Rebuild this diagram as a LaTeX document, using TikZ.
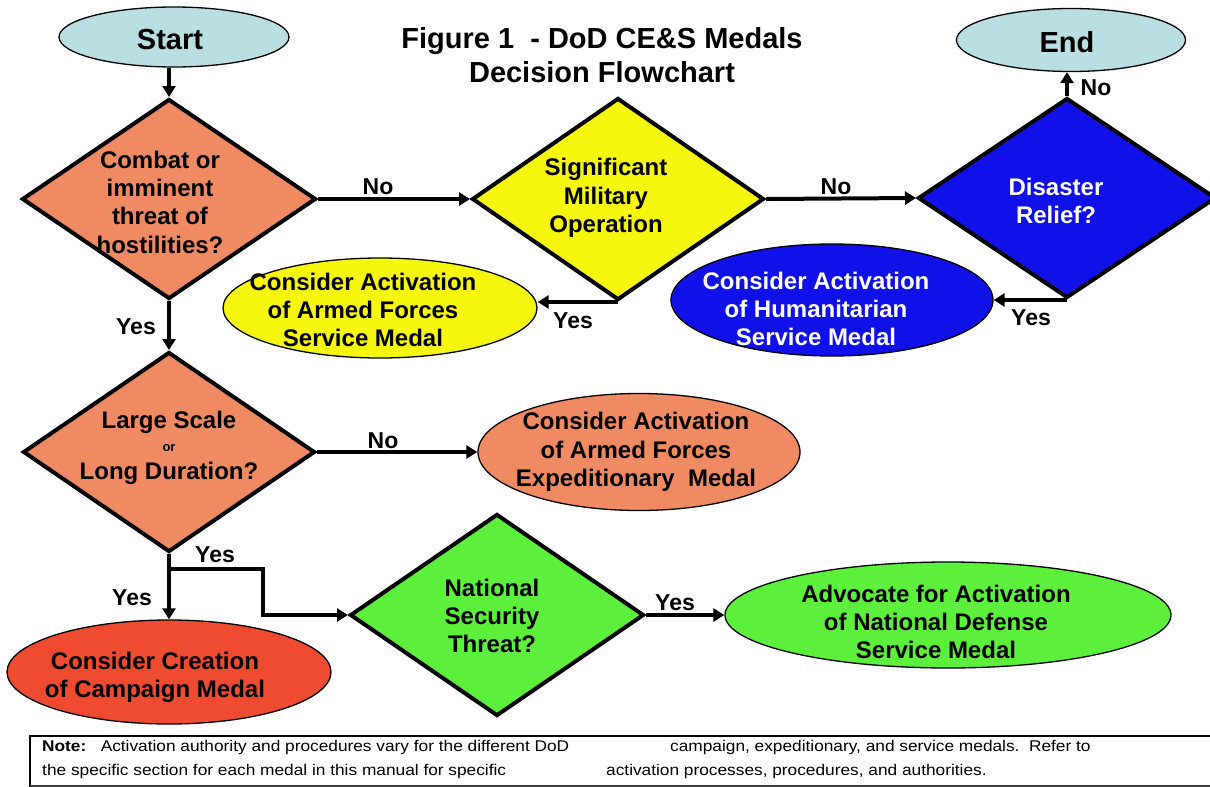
\documentclass[tikz,border=0pt]{standalone}
\usepackage{fontspec}
\setmainfont{Liberation Sans}
\usetikzlibrary{shapes.geometric,arrows.meta}
\definecolor{termc}{RGB}{185,223,226}
\definecolor{orangec}{RGB}{239,138,98}
\definecolor{yellowc}{RGB}{246,246,14}
\definecolor{bluec}{RGB}{16,16,232}
\definecolor{redc}{RGB}{238,75,48}
\definecolor{greenc}{RGB}{92,240,60}
\tikzset{
  dia/.style={diamond,draw=black,line width=4pt,minimum width=294pt,minimum height=200pt,inner sep=0pt},
  oval/.style={ellipse,draw=black,line width=1.3pt,inner sep=0pt},
  txt/.style={align=center,inner sep=0pt,font=\bfseries\fontsize{24}{28.3}\selectfont},
  bigtxt/.style={align=center,inner sep=0pt,font=\bfseries\fontsize{29}{34}\selectfont},
  lab/.style={inner sep=0pt,font=\bfseries\fontsize{23}{26}\selectfont},
  arr/.style={line width=4pt,-{Triangle[length=11pt,width=13pt]}},
  notetxt/.style={anchor=west,inner sep=0pt,font=\fontsize{15.5}{18}\selectfont},
}
\newcommand{\wide}[1]{\scalebox{1.115}[1]{#1}}
\begin{document}
\begin{tikzpicture}[x=1pt,y=-1pt]
\clip (0,0) rectangle (1210,787);
\useasboundingbox (0,0) rectangle (1210,787);

% title
\node[bigtxt] (title) at (602,55) {Figure 1~~- DoD CE\&S Medals\\Decision Flowchart};

% terminals
\node[oval,fill=termc,minimum width=230pt,minimum height=60pt] (start) at (174,37) {};
\node[bigtxt] (startt) at (170,40) {Start};
\node[oval,fill=termc,minimum width=229pt,minimum height=63pt] (endn) at (1071,40) {};
\node[bigtxt] (endt) at (1067,42) {End};

% diamonds
\node[dia,fill=orangec] (d1) at (169,199) {};
\node[txt] (d1t) at (160,202) {Combat or\\imminent\\threat of\\hostilities?};
\node[dia,fill=yellowc,minimum width=292pt,minimum height=202pt] (d2) at (618,199) {};
\node[txt] (d2t) at (606,198) {Significant\\Military\\Operation};
\node[dia,fill=bluec,minimum width=298pt] (d3) at (1067,198) {};
\node[txt,text=white] (d3t) at (1056,201) {Disaster\\Relief?};
\node[dia,fill=orangec,minimum width=292pt] (d4) at (169,452) {};
\node[txt] (d4t) at (169,448) {Large Scale\\[-6pt]{\fontsize{13}{14}\selectfont or}\\Long Duration?};
\node[dia,fill=greenc,minimum width=294pt,minimum height=202pt] (d5) at (497,615) {};
\node[txt] (d5t) at (492,616) {National\\Security\\Threat?};

% ovals
\node[oval,fill=yellowc,minimum width=314pt,minimum height=100pt] (afsm) at (380,308) {};
\node[txt] (afsmt) at (363,310) {Consider Activation\\of Armed Forces\\Service Medal};
\node[oval,fill=bluec,minimum width=322pt,minimum height=112pt] (hsm) at (832,300) {};
\node[txt,text=white] (hsmt) at (816,309) {Consider Activation\\of Humanitarian\\Service Medal};
\node[oval,fill=orangec,minimum width=322pt,minimum height=117pt] (afem) at (639,452) {};
\node[txt] (afemt) at (636,452) {Consider Activation\\of Armed Forces\\Expeditionary~~Medal};
\node[oval,fill=redc,minimum width=324pt,minimum height=104pt] (camp) at (169,672) {};
\node[txt] (campt) at (155,677) {Consider Creation\\of Campaign Medal};
\node[oval,fill=greenc,minimum width=446pt,minimum height=106pt] (ndsm) at (948,615) {};
\node[txt] (ndsmt) at (936,622) {Advocate for Activation\\of National Defense\\Service Medal};

% connectors
\draw[arr] (d1.north |- start.south) -- (d1.north);
\draw[arr] (d1.east) -- (d2.west);
\draw[arr] (d2.east) -- (d3.west);
\draw[arr] (d3.north) -- (d3.north |- endn.south);
\draw[arr] (d2.south) -- (d2.south -| afsm.east);
\draw[arr] (d3.south) -- (d3.south -| hsm.east);
\draw[arr] (d1.south) -- (d4.north);
\draw[arr] (d4.east) -- (afem.west);
\draw[arr] (d4.south) -- (camp.north);
\coordinate (br) at ([yshift=-15pt]d4.south);
\draw[arr] (br) -- ++(94,0) |- (d5.west);
\draw[arr] (d5.east) -- (ndsm.west);

% labels
\node[lab] (l1) at (378,187) {No};
\node[lab] (l2) at (836,187) {No};
\node[lab] (l3) at (1096,88) {No};
\node[lab] (l4) at (573,321) {Yes};
\node[lab] (l5) at (1031,318) {Yes};
\node[lab] (l6) at (136,327) {Yes};
\node[lab] (l7) at (383,441) {No};
\node[lab] (l8) at (132,598) {Yes};
\node[lab] (l9) at (215,555) {Yes};
\node[lab] (l10) at (675,603) {Yes};

% note box
\draw[line width=2.5pt] (1215,736) -- (30,736) -- (30,787);
\draw[line width=1.5pt,black!75] (30,786) -- (1215,786);
\node[notetxt] (n1) at (42,747) {\wide{\textbf{Note:}~~~Activation authority and procedures vary for the different DoD}};
\node[notetxt] (n2) at (670,747) {\wide{campaign, expeditionary, and service medals.~~Refer to}};
\node[notetxt] (n3) at (42,771) {\wide{the specific section for each medal in this manual for specific}};
\node[notetxt] (n4) at (606,771) {\wide{activation processes, procedures, and authorities.}};
\end{tikzpicture}
\end{document}
